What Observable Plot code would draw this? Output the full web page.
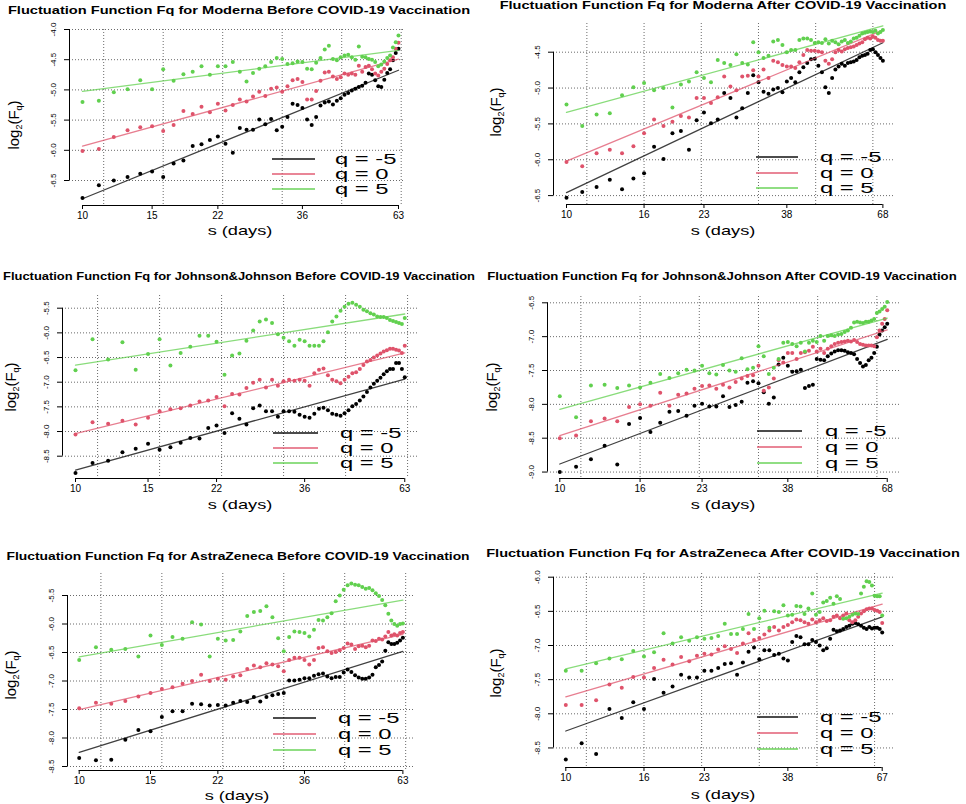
<!DOCTYPE html>
<html><head><meta charset="utf-8">
<script src="https://cdn.jsdelivr.net/npm/d3@7"></script>
<script src="https://cdn.jsdelivr.net/npm/@observablehq/plot@0.6"></script>
<style>
body{margin:0;background:#fff;}
#root{position:relative;width:966px;height:804px;overflow:hidden;font-family:"Liberation Sans",Arial,sans-serif;color:#000;}
.t{position:absolute;white-space:nowrap;line-height:1;}
.leg{position:absolute;height:2px;}
</style>
</head><body><div id="root"></div>
<script>
// ---------- data ----------
const qLabels = ["q = -5", "q = 0", "q = 5"];
const qColors = ["#000000", "#DF536B", "#61D04F"];
const scales = [10,11,12,13,14,15,16,17,18,19,20,21,22,23,24,25,26,27,28,29,30,31,32,33,34,35,36,37,38,39,40,41,42,43,44,45,46,47,48,49,50,51,52,53,54,55,56,57,58,59,60,61,62,63,64,65,66,67,68];
const ticksBefore = [10, 15, 22, 36, 63];
const ticksModernaAfter = [10, 16, 23, 38, 68];
const ticksJJAfter = [10, 16, 23, 38, 68];
const ticksAZAfter = [10, 16, 23, 38, 67];
const gridLog2 = [3.5, 4.0, 4.5, 5.0, 5.5, 6.0];

const titles = [
  "Fluctuation Function Fq for Moderna Before COVID-19 Vaccination",
  "Fluctuation Function Fq for Moderna After COVID-19 Vaccination",
  "Fluctuation Function Fq for Johnson&Johnson Before COVID-19 Vaccination",
  "Fluctuation Function Fq for Johnson&Johnson After COVID-19 Vaccination",
  "Fluctuation Function Fq for AstraZeneca Before COVID-19 Vaccination",
  "Fluctuation Function Fq for AstraZeneca After COVID-19 Vaccination"
];

const yTicksModernaBefore = [-6.5, -6.0, -5.5, -5.0, -4.5, -4.0];
const yTicksModernaAfter = [-6.5, -6.0, -5.5, -5.0, -4.5];
const yTicksJJBefore = [-8.5, -8.0, -7.5, -7.0, -6.5, -6.0, -5.5];
const yTicksJJAfter = [-9.0, -8.5, -8.0, -7.5, -7.0, -6.5];
const yTicksAZBefore = [-8.5, -8.0, -7.5, -7.0, -6.5, -6.0, -5.5];
const yTicksAZAfter = [-8.5, -8.0, -7.5, -7.0, -6.5, -6.0];

// Moderna before (s = 10..63)
const modernaBeforeNeg5 = [-6.79,-6.58,-6.50,-6.44,-6.39,-6.35,-6.44,-6.22,-6.17,-5.93,-5.90,-5.83,-5.77,-5.89,-6.04,-5.63,-5.66,-5.66,-5.49,-5.57,-5.48,-5.67,-5.61,-5.45,-5.23,-5.25,-5.30,-5.49,-5.58,-5.45,-5.26,-5.21,-5.19,-5.24,-5.18,-5.14,-5.08,-5.05,-5.01,-4.98,-4.95,-4.93,-4.88,-4.73,-4.75,-4.84,-4.94,-4.95,-4.83,-4.72,-4.66,-4.51,-4.39,-4.32];
const modernaBefore0 = [-6.01,-5.98,-5.78,-5.67,-5.62,-5.60,-5.68,-5.58,-5.35,-5.40,-5.28,-5.37,-5.23,-5.34,-5.25,-5.16,-5.19,-5.11,-5.03,-5.10,-4.98,-4.96,-5.03,-4.94,-4.84,-4.82,-4.87,-5.16,-5.16,-5.02,-4.85,-4.71,-4.70,-4.78,-4.82,-4.79,-4.73,-4.75,-4.73,-4.75,-4.60,-4.70,-4.62,-4.60,-4.66,-4.73,-4.76,-4.70,-4.65,-4.57,-4.51,-4.46,-4.32,-4.22];
const modernaBeforePos5 = [-5.20,-5.18,-5.04,-4.99,-4.84,-4.99,-4.66,-4.85,-4.74,-4.70,-4.61,-4.75,-4.61,-4.61,-4.54,-4.70,-4.86,-4.72,-4.65,-4.61,-4.54,-4.47,-4.49,-4.57,-4.56,-4.53,-4.54,-4.65,-4.66,-4.55,-4.47,-4.33,-4.27,-4.49,-4.51,-4.46,-4.43,-4.42,-4.46,-4.50,-4.28,-4.45,-4.46,-4.49,-4.50,-4.54,-4.61,-4.58,-4.53,-4.47,-4.43,-4.30,-4.21,-4.10];

// Moderna after (s = 10..68)
const modernaAfterNeg5 = [-6.53,-6.45,-6.38,-6.28,-6.41,-6.26,-6.19,-5.82,-5.99,-5.63,-5.60,-5.86,-5.45,-5.34,-5.49,-5.44,-5.07,-5.14,-5.41,-5.28,-5.07,-4.82,-4.92,-5.05,-5.08,-5.02,-5.00,-5.06,-4.91,-4.86,-4.92,-4.78,-4.71,-4.65,-4.60,-4.59,-4.69,-4.78,-4.99,-5.07,-4.86,-4.74,-4.70,-4.66,-4.69,-4.65,-4.64,-4.63,-4.61,-4.57,-4.55,-4.54,-4.52,-4.47,-4.46,-4.50,-4.54,-4.58,-4.62];
const modernaAfter0 = [-6.03,-6.09,-5.91,-5.86,-5.91,-5.81,-5.63,-5.44,-5.53,-5.47,-5.39,-5.41,-5.14,-5.14,-5.21,-5.13,-4.84,-4.98,-5.03,-4.84,-4.83,-4.75,-4.84,-4.74,-4.86,-4.62,-4.64,-4.68,-4.70,-4.70,-4.72,-4.64,-4.54,-4.47,-4.48,-4.48,-4.49,-4.50,-4.62,-4.66,-4.60,-4.50,-4.47,-4.49,-4.46,-4.44,-4.43,-4.42,-4.40,-4.38,-4.36,-4.32,-4.30,-4.31,-4.28,-4.30,-4.33,-4.34,-4.34];
const modernaAfterPos5 = [-5.23,-5.53,-5.37,-5.35,-5.10,-4.99,-4.93,-5.03,-5.00,-5.27,-4.95,-4.91,-4.78,-4.86,-4.92,-4.61,-4.65,-4.68,-4.53,-4.65,-4.67,-4.36,-4.50,-4.58,-4.55,-4.35,-4.33,-4.40,-4.50,-4.47,-4.47,-4.33,-4.31,-4.31,-4.33,-4.37,-4.36,-4.37,-4.32,-4.38,-4.34,-4.36,-4.39,-4.35,-4.33,-4.37,-4.35,-4.31,-4.30,-4.27,-4.24,-4.23,-4.22,-4.21,-4.22,-4.20,-4.24,-4.22,-4.19];

// Johnson&Johnson before (s = 10..63)
const jjBeforeNeg5 = [-8.84,-8.64,-8.59,-8.42,-8.35,-8.25,-8.37,-8.32,-8.23,-8.13,-8.14,-7.93,-7.88,-8.03,-7.63,-7.74,-7.86,-7.53,-7.47,-7.59,-7.59,-7.70,-7.59,-7.59,-7.60,-7.66,-7.70,-7.72,-7.64,-7.54,-7.52,-7.57,-7.64,-7.66,-7.68,-7.63,-7.57,-7.49,-7.44,-7.37,-7.29,-7.20,-7.11,-7.03,-6.97,-6.91,-6.84,-6.78,-6.73,-6.73,-6.61,-6.61,-6.73,-6.90];
const jjBefore0 = [-8.06,-7.81,-7.84,-7.78,-7.86,-7.72,-7.59,-7.55,-7.53,-7.47,-7.39,-7.37,-7.30,-7.49,-7.24,-7.25,-7.12,-7.01,-6.95,-7.11,-6.95,-7.07,-6.98,-6.95,-6.97,-6.95,-6.97,-7.07,-6.82,-6.75,-6.72,-6.86,-6.95,-6.98,-7.02,-6.95,-6.89,-6.82,-6.80,-6.73,-6.65,-6.58,-6.55,-6.50,-6.46,-6.42,-6.38,-6.35,-6.32,-6.32,-6.34,-6.36,-6.41,-6.26];
const jjBeforePos5 = [-6.76,-6.13,-6.54,-6.19,-6.75,-6.43,-6.13,-6.66,-6.41,-6.28,-6.06,-6.06,-6.18,-6.85,-6.46,-6.42,-6.16,-5.95,-5.77,-5.73,-5.80,-6.03,-6.10,-6.17,-6.26,-6.14,-6.17,-6.26,-6.26,-6.26,-6.17,-5.99,-5.77,-5.67,-5.55,-5.47,-5.41,-5.39,-5.43,-5.47,-5.53,-5.56,-5.60,-5.63,-5.67,-5.68,-5.68,-5.70,-5.74,-5.76,-5.78,-5.80,-5.82,-5.70];

// Johnson&Johnson after (s = 10..68)
const jjAfterNeg5 = [-9.00,-8.92,-8.81,-8.61,-8.89,-8.29,-8.20,-8.41,-8.27,-8.11,-8.10,-8.17,-8.02,-7.99,-8.03,-8.03,-7.88,-8.04,-8.01,-7.96,-7.68,-7.66,-7.69,-7.82,-7.99,-7.90,-7.41,-7.31,-7.43,-7.52,-7.51,-7.49,-7.76,-7.73,-7.71,-7.33,-7.34,-7.35,-7.29,-7.25,-7.22,-7.20,-7.20,-7.21,-7.23,-7.24,-7.26,-7.33,-7.39,-7.44,-7.42,-7.35,-7.31,-7.24,-7.15,-6.97,-6.91,-6.86,-6.81];
const jjAfter0 = [-8.50,-8.46,-8.25,-8.21,-8.25,-8.04,-8.00,-8.02,-7.83,-8.02,-7.86,-7.84,-7.77,-7.73,-7.72,-7.77,-7.71,-7.75,-7.67,-7.62,-7.58,-7.57,-7.43,-7.80,-7.75,-7.62,-7.35,-7.38,-7.24,-7.24,-7.33,-7.24,-7.23,-7.21,-7.15,-7.22,-7.18,-7.24,-7.18,-7.14,-7.11,-7.09,-7.08,-7.07,-7.06,-7.07,-7.05,-7.08,-7.11,-7.12,-7.13,-7.13,-7.13,-7.14,-7.01,-6.91,-6.81,-6.74,-6.61];
const jjAfterPos5 = [-7.88,-8.19,-7.72,-7.71,-7.76,-7.72,-7.75,-7.68,-7.55,-7.61,-7.54,-7.49,-7.50,-7.43,-7.54,-7.56,-7.42,-7.50,-7.52,-7.32,-7.48,-7.46,-7.14,-7.29,-7.55,-7.46,-7.33,-7.09,-7.08,-7.11,-7.14,-7.09,-7.22,-7.09,-7.06,-7.08,-6.99,-7.06,-6.99,-6.98,-6.99,-6.97,-6.96,-6.93,-6.91,-6.87,-6.79,-6.78,-6.79,-6.80,-6.78,-6.78,-6.76,-6.74,-6.65,-6.63,-6.59,-6.56,-6.49];

// AstraZeneca before (s = 10..63)
const azBeforeNeg5 = [-8.35,-8.39,-8.38,-8.03,-7.86,-7.88,-7.63,-7.53,-7.53,-7.40,-7.41,-7.43,-7.42,-7.43,-7.38,-7.35,-7.37,-7.28,-7.36,-7.28,-7.25,-7.23,-7.21,-6.99,-6.99,-6.98,-6.95,-6.95,-6.91,-6.88,-6.87,-6.92,-6.95,-6.93,-6.93,-6.85,-6.80,-6.84,-6.90,-6.94,-6.96,-6.96,-6.94,-6.89,-6.76,-6.72,-6.66,-6.47,-6.32,-6.35,-6.35,-6.33,-6.29,-6.24];
const azBefore0 = [-7.48,-7.38,-7.40,-7.35,-7.27,-7.21,-7.14,-7.11,-7.05,-7.00,-6.89,-7.00,-6.96,-6.98,-6.92,-6.90,-6.79,-6.73,-6.76,-6.69,-6.71,-6.74,-6.83,-6.63,-6.59,-6.59,-6.63,-6.71,-6.63,-6.42,-6.41,-6.48,-6.51,-6.49,-6.46,-6.42,-6.34,-6.36,-6.44,-6.39,-6.38,-6.41,-6.38,-6.29,-6.30,-6.26,-6.27,-6.22,-6.14,-6.20,-6.18,-6.20,-6.16,-6.14];
const azBeforePos5 = [-6.63,-6.41,-6.45,-6.44,-6.57,-6.20,-6.37,-6.23,-6.26,-5.97,-6.01,-6.57,-6.26,-6.29,-6.28,-6.13,-5.86,-5.79,-5.77,-5.69,-5.88,-6.25,-6.48,-6.23,-6.13,-6.14,-6.16,-6.22,-6.10,-5.93,-5.94,-5.88,-5.81,-5.60,-5.50,-5.40,-5.32,-5.29,-5.31,-5.32,-5.35,-5.38,-5.37,-5.41,-5.46,-5.51,-5.58,-5.67,-5.82,-5.94,-6.00,-6.03,-6.00,-5.99];

// AstraZeneca after (s = 10..67)
const azAfterNeg5 = [-8.67,-8.43,-8.59,-7.93,-8.06,-7.83,-7.93,-7.49,-7.69,-7.60,-7.43,-7.47,-7.47,-7.37,-7.37,-7.33,-7.27,-7.26,-7.43,-7.25,-7.09,-7.03,-7.20,-7.07,-7.07,-7.14,-7.12,-7.19,-7.22,-6.95,-6.86,-6.88,-6.98,-6.98,-6.92,-6.95,-7.00,-7.07,-7.04,-6.90,-6.77,-6.79,-6.78,-6.76,-6.73,-6.71,-6.68,-6.67,-6.69,-6.71,-6.74,-6.76,-6.73,-6.75,-6.74,-6.74,-6.76,-6.81];
const azAfter0 = [-7.87,-7.87,-7.80,-7.57,-7.62,-7.46,-7.47,-7.33,-7.21,-7.28,-7.17,-7.23,-7.15,-7.12,-7.13,-7.06,-7.01,-7.05,-7.11,-6.97,-6.82,-6.92,-6.89,-6.84,-6.78,-6.73,-6.78,-6.73,-6.70,-6.66,-6.62,-6.63,-6.66,-6.68,-6.62,-6.66,-6.63,-6.60,-6.64,-6.63,-6.58,-6.56,-6.60,-6.56,-6.53,-6.63,-6.66,-6.63,-6.58,-6.53,-6.50,-6.47,-6.46,-6.46,-6.48,-6.49,-6.51,-6.67];
const azAfterPos5 = [-7.37,-7.37,-7.26,-7.19,-7.20,-7.08,-7.16,-7.10,-6.82,-6.97,-6.88,-6.93,-6.88,-6.90,-6.89,-6.86,-6.68,-6.83,-6.83,-6.76,-6.54,-6.76,-6.60,-6.49,-6.74,-6.50,-6.51,-6.41,-6.56,-6.55,-6.42,-6.43,-6.54,-6.46,-6.24,-6.55,-6.51,-6.37,-6.35,-6.30,-6.39,-6.28,-6.32,-6.61,-6.60,-6.58,-6.55,-6.53,-6.54,-6.24,-6.14,-6.06,-6.07,-6.12,-6.27,-6.28,-6.28,-6.56];

// ---------- layout (page pixels) ----------
const panels = [
  {title: titles[0], series: [modernaBeforeNeg5, modernaBefore0, modernaBeforePos5], xTicks: ticksBefore, yTicks: yTicksModernaBefore,
   box: {left: 0, top: 14, width: 480, height: 226}, frame: {L: 69, R: 403, T: 29, B: 205}, px10: 82, kx: 119.0, vT: -4.0, pT: 29, ky: 60.4,
   titlePos: [239, 11, 462], xlab: [240, 230], ylab: [15, 125], legend: {x1: 272, x2: 315, ys: [159, 174, 189], tx: 335}},
  {title: titles[1], series: [modernaAfterNeg5, modernaAfter0, modernaAfterPos5], xTicks: ticksModernaAfter, yTicks: yTicksModernaAfter,
   box: {left: 480, top: 14, width: 486, height: 226}, frame: {L: 553, R: 893, T: 23, B: 204}, px10: 566, kx: 114.4, vT: -4.5, pT: 51.7, ky: 71.7,
   titlePos: [723, 6, 446], xlab: [723, 230], ylab: [497, 112], legend: {x1: 756, x2: 798, ys: [157, 173, 188], tx: 820}},
  {title: titles[2], series: [jjBeforeNeg5, jjBefore0, jjBeforePos5], xTicks: ticksBefore, yTicks: yTicksJJBefore,
   box: {left: 0, top: 283, width: 480, height: 232}, frame: {L: 62, R: 417, T: 295, B: 478}, px10: 75, kx: 124.0, vT: -5.5, pT: 307.7, ky: 49.33,
   titlePos: [239, 277, 472], xlab: [240, 504], ylab: [12, 387], legend: {x1: 273, x2: 318, ys: [433, 448, 463], tx: 340}},
  {title: titles[3], series: [jjAfterNeg5, jjAfter0, jjAfterPos5], xTicks: ticksJJAfter, yTicks: yTicksJJAfter,
   box: {left: 480, top: 283, width: 486, height: 232}, frame: {L: 547, R: 900, T: 296, B: 478}, px10: 559.3, kx: 118.4, vT: -6.5, pT: 302.3, ky: 67.7,
   titlePos: [722, 277, 469], xlab: [723, 504], ylab: [493, 387], legend: {x1: 757, x2: 802, ys: [431, 447, 463], tx: 825}},
  {title: titles[4], series: [azBeforeNeg5, azBefore0, azBeforePos5], xTicks: ticksBefore, yTicks: yTicksAZBefore,
   box: {left: 0, top: 562, width: 480, height: 240}, frame: {L: 67, R: 414, T: 573, B: 770}, px10: 78.7, kx: 121.9, vT: -5.5, pT: 595, ky: 57,
   titlePos: [238, 557, 463], xlab: [237, 795], ylab: [12, 675], legend: {x1: 273, x2: 316, ys: [718, 734, 750], tx: 338}},
  {title: titles[5], series: [azAfterNeg5, azAfter0, azAfterPos5], xTicks: ticksAZAfter, yTicks: yTicksAZAfter,
   box: {left: 480, top: 562, width: 486, height: 240}, frame: {L: 553, R: 894, T: 573, B: 767}, px10: 565.3, kx: 115.3, vT: -6.0, pT: 576.7, ky: 68.3,
   titlePos: [723, 554, 473], xlab: [723, 794], ylab: [497, 673], legend: {x1: 757, x2: 798, ys: [717, 733, 749], tx: 820}}
];

const root = document.getElementById("root");

function addDiv(html, css) {
  const d = document.createElement("div");
  d.className = "t";
  d.innerHTML = html;
  Object.assign(d.style, css);
  root.appendChild(d);
  return d;
}

const gridStyle = {stroke: "#6a6a6a", strokeOpacity: 1, strokeDasharray: "1,2", strokeWidth: 1};

for (const p of panels) {
  const {box, frame} = p;
  const l10 = Math.log2(10);
  const xDomain = [l10 - (p.px10 - frame.L) / p.kx, l10 + (frame.R - p.px10) / p.kx];
  const yDomain = [p.vT - (frame.B - p.pT) / p.ky, p.vT + (p.pT - frame.T) / p.ky];
  const xTickPos = p.xTicks.map(Math.log2);
  const grids = gridLog2.filter(g => g >= xDomain[0] && g <= xDomain[1]);

  const marks = [
    Plot.gridX({ticks: grids, ...gridStyle}),
    Plot.gridY({ticks: p.yTicks, ...gridStyle}),
    Plot.ruleX([xDomain[0]], {y1: p.yTicks[0], y2: p.yTicks[p.yTicks.length - 1], stroke: "#000"}),
    Plot.ruleY([yDomain[0]], {x1: xTickPos[0], x2: xTickPos[xTickPos.length - 1], stroke: "#000"}),
    Plot.axisX({ticks: xTickPos, tickFormat: d => String(Math.round(2 ** d)), tickSize: 4, tickPadding: 2, fontSize: 10, label: null}),
    Plot.axisY({ticks: p.yTicks, tickFormat: d => d.toFixed(1), tickRotate: -90, textAnchor: "middle", lineAnchor: "bottom", tickSize: 5, tickPadding: 9, fontSize: 8, label: null})
  ];
  p.series.forEach((vals, k) => {
    const rows = vals.map((v, i) => ({s: scales[i], lx: Math.log2(scales[i]), v, q: qLabels[k]}));
    marks.push(Plot.dot(rows, {x: "lx", y: "v", r: 2, fill: qColors[k]}));
    marks.push(Plot.linearRegressionY(rows, {x: "lx", y: "v", stroke: qColors[k], strokeOpacity: 0.75, strokeWidth: 1.3, ci: 0}));
  });

  const svg = Plot.plot({
    width: box.width, height: box.height,
    marginLeft: frame.L - box.left, marginRight: box.left + box.width - frame.R,
    marginTop: frame.T - box.top, marginBottom: box.top + box.height - frame.B,
    x: {type: "linear", domain: xDomain},
    y: {type: "linear", domain: yDomain},
    style: {fontFamily: "'Liberation Sans', Arial, sans-serif", background: "transparent", overflow: "visible", color: "#000"},
    marks
  });
  svg.style.position = "absolute";
  svg.style.left = box.left + "px";
  svg.style.top = box.top + "px";
  root.appendChild(svg);

  // title, fitted to the reference width
  const [tx, ty, tw] = p.titlePos;
  const t = addDiv(p.title, {left: tx + "px", top: ty + "px", fontSize: "10px", fontWeight: "bold"});
  const w = t.offsetWidth;
  t.style.transform = `translate(-50%,-50%) scaleX(${tw / w})`;

  // axis titles
  addDiv("s (days)", {left: p.xlab[0] + "px", top: p.xlab[1] + "px", fontSize: "13px", transform: "translate(-50%,-50%) scaleX(1.4)"});
  addDiv("log<sub style='font-size:9px;vertical-align:-3px'>2</sub>(F<sub style='font-size:9px;vertical-align:-3px'>q</sub>)",
    {left: p.ylab[0] + "px", top: p.ylab[1] + "px", fontSize: "15px", transform: "translate(-50%,-50%) rotate(-90deg)"});

  // legend
  const lg = p.legend;
  qLabels.forEach((q, k) => {
    const line = document.createElement("div");
    line.className = "leg";
    Object.assign(line.style, {left: lg.x1 + "px", top: (lg.ys[k] - 1) + "px", width: (lg.x2 - lg.x1) + "px", background: qColors[k], opacity: 0.7});
    root.appendChild(line);
    addDiv(q, {left: lg.tx + "px", top: lg.ys[k] + "px", fontSize: "14px", lineHeight: "12px", transformOrigin: "left center", transform: "translateY(-50%) scaleX(1.7)"});
  });
}
</script>
</body></html>
